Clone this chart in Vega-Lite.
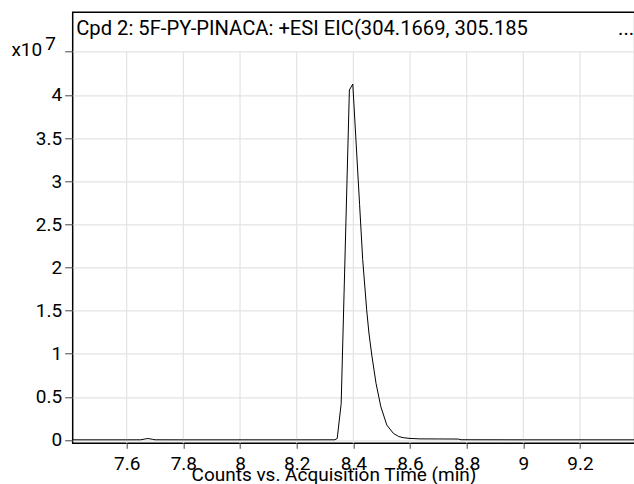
{
  "$schema": "https://vega.github.io/schema/vega-lite/v6.json",
  "autosize": {"type": "none"},
  "padding": {"left": 72.7, "top": 12.3, "right": 0, "bottom": 41},
  "width": 562,
  "height": 431,
  "background": "white",
  "title": {
    "text": "Cpd 2: 5F-PY-PINACA: +ESI EIC(304.1669, 305.185\u00a0\u00a0\u00a0\u00a0\u00a0\u00a0\u00a0\u00a0\u00a0\u00a0\u00a0\u00a0\u00a0\u00a0\u00a0\u00a0\u00a0\u00a0...",
    "anchor": "start",
    "frame": "group",
    "orient": "top",
    "offset": -22.7,
    "baseline": "alphabetic",
    "font": "Roboto",
    "fontSize": 20.2,
    "fontWeight": "normal",
    "color": "#000",
    "dx": 3.5,
    "dy": 20
  },
  "config": {
    "view": {"stroke": "#000", "strokeWidth": 1.5},
    "axis": {
      "labelFont": "Roboto",
      "labelFontSize": 19,
      "labelColor": "#000",
      "titleFont": "Roboto",
      "titleFontSize": 19,
      "titleFontWeight": "normal",
      "titleColor": "#000",
      "domain": false,
      "tickColor": "#444",
      "gridColor": "#e3e3e3",
      "gridWidth": 1.2
    }
  },
  "datasets": {
    "xgrid": [
      {"t": 7.6}, {"t": 7.8}, {"t": 8.0}, {"t": 8.2}, {"t": 8.4},
      {"t": 8.6}, {"t": 8.8}, {"t": 9.0}, {"t": 9.2}
    ],
    "eic": [
      {"t": 7.40, "counts": 20000},
      {"t": 7.60, "counts": 20000},
      {"t": 7.65, "counts": 25000},
      {"t": 7.665, "counts": 120000},
      {"t": 7.675, "counts": 170000},
      {"t": 7.69, "counts": 90000},
      {"t": 7.70, "counts": 25000},
      {"t": 7.80, "counts": 20000},
      {"t": 8.00, "counts": 20000},
      {"t": 8.20, "counts": 20000},
      {"t": 8.335, "counts": 25000},
      {"t": 8.343, "counts": 180000},
      {"t": 8.357, "counts": 4200000},
      {"t": 8.386, "counts": 40560000},
      {"t": 8.398, "counts": 41260000},
      {"t": 8.41, "counts": 34300000},
      {"t": 8.422, "counts": 27300000},
      {"t": 8.433, "counts": 20900000},
      {"t": 8.447, "counts": 15100000},
      {"t": 8.455, "counts": 12400000},
      {"t": 8.465, "counts": 9850000},
      {"t": 8.48, "counts": 6570000},
      {"t": 8.497, "counts": 3860000},
      {"t": 8.518, "counts": 1740000},
      {"t": 8.541, "counts": 780000},
      {"t": 8.56, "counts": 400000},
      {"t": 8.576, "counts": 270000},
      {"t": 8.60, "counts": 180000},
      {"t": 8.635, "counts": 130000},
      {"t": 8.70, "counts": 120000},
      {"t": 8.77, "counts": 110000},
      {"t": 8.78, "counts": 30000},
      {"t": 9.00, "counts": 20000},
      {"t": 9.20, "counts": 20000},
      {"t": 9.40, "counts": 20000}
    ]
  },
  "layer": [
    {
      "data": {"name": "xgrid"},
      "mark": {"type": "rule", "color": "#e3e3e3", "strokeWidth": 1.2},
      "encoding": {
        "x": {"field": "t", "type": "quantitative"},
        "y": {"datum": 45000000, "type": "quantitative"},
        "y2": {"datum": -382000}
      }
    },
    {
      "data": {"name": "eic"},
      "mark": {"type": "line", "color": "#000", "strokeWidth": 1, "clip": true},
      "encoding": {
        "x": {
          "field": "t",
          "type": "quantitative",
          "scale": {"domain": [7.4094, 9.393], "zero": false, "nice": false},
          "axis": {
            "values": [7.6, 7.8, 8.0, 8.2, 8.4, 8.6, 8.8, 9.0, 9.2],
            "format": "~g",
            "grid": false,
            "tickSize": 5,
            "labelPadding": 6,
            "labelFlush": false,
            "labelOverlap": false,
            "title": "Counts vs. Acquisition Time (min)",
            "titleAlign": "center",
            "titleBaseline": "alphabetic",
            "titleX": 260.8,
            "titleY": 37.7
          }
        },
        "y": {
          "field": "counts",
          "type": "quantitative",
          "scale": {"domain": [-382000, 49570000], "zero": false, "nice": false},
          "axis": {
            "values": [0, 5000000, 10000000, 15000000, 20000000, 25000000, 30000000, 35000000, 40000000, 45000000],
            "labelExpr": "datum.value > 44000000 ? '7' : format(datum.value / 10000000, '~g')",
            "grid": true,
            "tickSize": 8,
            "labelPadding": {"condition": {"test": "datum.value > 44000000", "value": 9.4}, "value": 3},
            "labelOffset": {"condition": {"test": "datum.value > 44000000", "value": -8}, "value": 0},
            "labelOverlap": false,
            "title": "x10",
            "titleAngle": 0,
            "titleAlign": "right",
            "titleBaseline": "alphabetic",
            "titleX": -31,
            "titleY": 42.7
          }
        }
      }
    }
  ]
}
